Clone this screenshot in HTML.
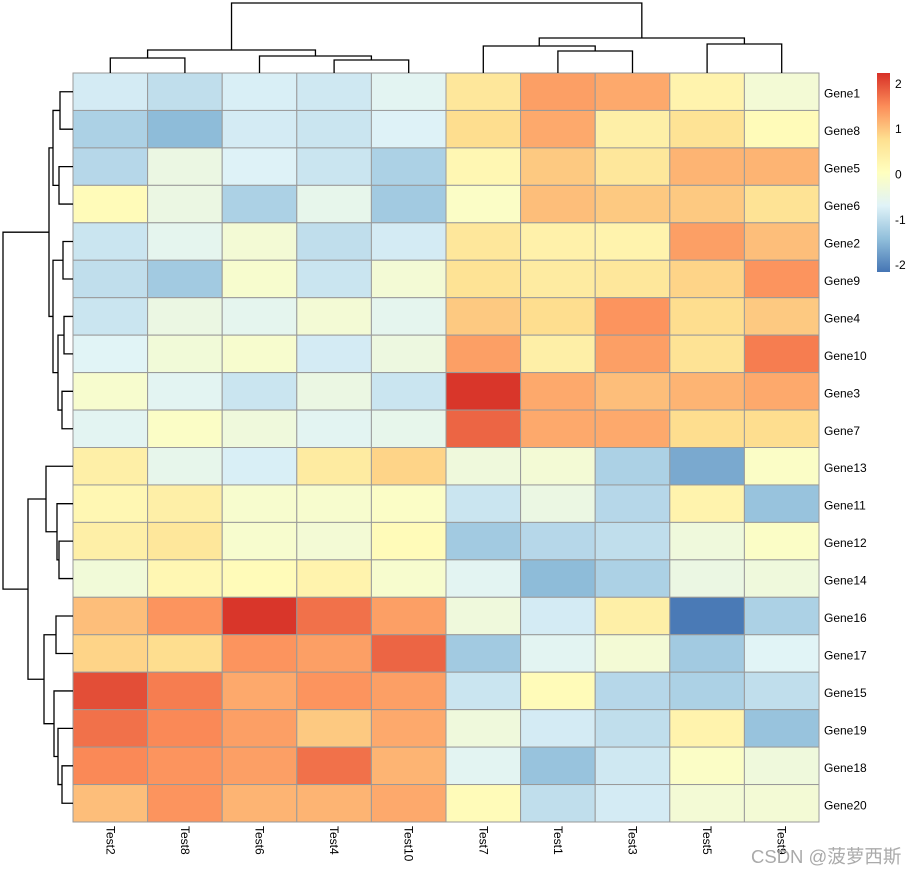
<!DOCTYPE html>
<html><head><meta charset="utf-8"><style>
html,body{margin:0;padding:0;background:#fff;}
svg{display:block;font-family:"Liberation Sans",Arial,sans-serif;}
</style></head><body>
<svg id="chart" width="917" height="874" xmlns="http://www.w3.org/2000/svg">
<defs><linearGradient id="lg" x1="0" y1="1" x2="0" y2="0">
<stop offset="0" stop-color="#4575B4"/><stop offset="0.1667" stop-color="#91BFDB"/><stop offset="0.3333" stop-color="#E0F3F8"/><stop offset="0.5" stop-color="#FFFFBF"/><stop offset="0.6667" stop-color="#FEE090"/><stop offset="0.8333" stop-color="#FC8D59"/><stop offset="1" stop-color="#D73027"/></linearGradient></defs>
<g id="cells"></g>
<g id="dendro" fill="none" stroke="#000" stroke-width="1.3"></g>
<g id="labels" font-size="12" fill="#000"></g>
<g>
<rect x="877" y="73" width="13" height="199" fill="url(#lg)"/>
<g id="legticks" font-size="12"></g>
</g>
<text x="751" y="863" font-size="18.5" fill="#aaaaaa" font-family="'Liberation Sans','Noto Sans CJK SC',sans-serif">CSDN @菠萝西斯</text>
</svg>
<script>
const cols=["Test2","Test8","Test6","Test4","Test10","Test7","Test1","Test3","Test5","Test9"];
const rows=["Gene1","Gene8","Gene5","Gene6","Gene2","Gene9","Gene4","Gene10","Gene3","Gene7","Gene13","Gene11","Gene12","Gene14","Gene16","Gene17","Gene15","Gene19","Gene18","Gene20"];
const values=[
[-0.9,-1.1,-0.85,-0.95,-0.7,0.6,1.4,1.3,0.3,-0.3],
[-1.3,-1.6,-0.9,-1.0,-0.8,0.8,1.3,0.4,0.7,0.1],
[-1.2,-0.5,-0.8,-1.0,-1.3,0.2,1.0,0.6,1.2,1.2],
[0.1,-0.5,-1.3,-0.6,-1.4,-0.1,1.1,1.0,1.0,0.7],
[-1.0,-0.65,-0.3,-1.1,-0.9,0.6,0.35,0.3,1.4,1.1],
[-1.1,-1.4,-0.2,-1.0,-0.3,0.7,0.5,0.6,0.9,1.5],
[-1.0,-0.5,-0.65,-0.3,-0.65,1.0,0.8,1.5,0.8,1.0],
[-0.75,-0.35,-0.2,-0.9,-0.45,1.4,0.4,1.4,0.7,1.7],
[-0.2,-0.7,-1.0,-0.5,-1.0,2.3,1.3,1.1,1.2,1.3],
[-0.7,-0.1,-0.4,-0.7,-0.6,1.9,1.3,1.3,0.8,0.8],
[0.4,-0.6,-0.85,0.5,0.9,-0.4,-0.3,-1.3,-1.8,-0.1],
[0.2,0.4,-0.2,-0.2,-0.1,-1.0,-0.5,-1.2,0.3,-1.5],
[0.4,0.6,-0.2,-0.3,0.1,-1.4,-1.2,-1.1,-0.4,-0.1],
[-0.35,0.2,0.1,0.3,-0.2,-0.7,-1.6,-1.3,-0.5,-0.4],
[1.1,1.5,2.3,1.8,1.4,-0.4,-0.9,0.4,-2.3,-1.3],
[0.9,0.8,1.5,1.4,1.9,-1.4,-0.7,-0.3,-1.4,-0.75],
[2.1,1.7,1.3,1.5,1.4,-1.0,0.1,-1.2,-1.3,-1.1],
[1.8,1.6,1.4,1.0,1.3,-0.4,-0.9,-1.1,0.3,-1.5],
[1.6,1.5,1.4,1.8,1.2,-0.7,-1.5,-0.95,-0.1,-0.4],
[1.1,1.5,1.2,1.2,1.3,0.1,-1.1,-0.9,-0.3,-0.3]];
const legendTicks=[2,1,0,-1,-2];
const colMerges=[[3,4,60],[0,1,58],[2,"m0",56],["m1","m2",50],[6,7,51],[5,"m4",46],[8,9,44],["m5","m6",38],["m3","m7",3]];
const rowMerges=[[0,1,60],[2,3,59],["m0","m1",53],[4,5,63],[6,7,64],[8,9,62],["m4","m5",58],["m3","m6",53],["m2","m7",49],
[12,13,59],[11,"m9",57],[10,"m10",46],[14,15,56],[18,19,62],[17,"m13",58],[16,"m14",54],["m12","m15",44],["m11","m16",28],["m8","m17",3]];

const X0=73,X1=819,Y0=73,Y1=822;
const cw=(X1-X0)/cols.length, rh=(Y1-Y0)/rows.length;
const vmin=-2.35,vmax=2.35;
const stops=["#4575B4","#91BFDB","#E0F3F8","#FFFFBF","#FEE090","#FC8D59","#D73027"].map(h=>[1,3,5].map(i=>parseInt(h.substr(i,2),16)));
function color(v){let t=(v-vmin)/(vmax-vmin);t=Math.max(0,Math.min(1,t))*(stops.length-1);const i=Math.min(Math.floor(t),stops.length-2),f=t-i;
const c=stops[i].map((a,k)=>Math.round(a+(stops[i+1][k]-a)*f));return `rgb(${c[0]},${c[1]},${c[2]})`;}
const xS=j=>X0+j*cw, yS=i=>Y0+i*rh;
const NS="http://www.w3.org/2000/svg";
function mk(tag,attrs,parent){const e=document.createElementNS(NS,tag);for(const k in attrs)e.setAttribute(k,attrs[k]);parent.appendChild(e);return e;}
const cellsG=document.getElementById('cells');
rows.forEach((r,i)=>cols.forEach((c,j)=>{
const e=mk('rect',{x:xS(j),y:yS(i),width:cw,height:rh,fill:color(values[i][j]),stroke:'#999',"stroke-width":1},cellsG);


}));
const labG=document.getElementById('labels');
rows.forEach((r,i)=>{const t=mk('text',{x:X1+5,y:yS(i)+rh/2+6},labG);t.textContent=r;

});
cols.forEach((c,j)=>{const x=xS(j)+cw/2-4,y=826;const t=mk('text',{x:x,y:y,transform:`rotate(90 ${x} ${y})`},labG);t.textContent=c;

});
const lt=document.getElementById('legticks');
legendTicks.forEach(v=>{const t=mk('text',{x:895,y:174.5-v*45.3+4},lt);t.textContent=v;

});
const dG=document.getElementById('dendro');
function drawDendro(merges,horizontal){
const pos={},ht={};
merges.forEach((m,k)=>{
const get=n=>typeof n==="number"?[horizontal?xS(n)+cw/2:yS(n)+rh/2,horizontal?Y0:X0]:[pos[n],ht[n]];
const a=get(m[0]),b=get(m[1]),h=m[2];
let d;
if(horizontal)d=`M${a[0]},${a[1]}V${h}H${b[0]}V${b[1]}`;
else d=`M${a[1]},${a[0]}H${h}V${b[0]}H${b[1]}`;
const p=mk('path',{d:d},dG);


pos['m'+k]=(a[0]+b[0])/2;ht['m'+k]=h;
});}
drawDendro(colMerges,true);
drawDendro(rowMerges,false);
</script>
</body></html>
